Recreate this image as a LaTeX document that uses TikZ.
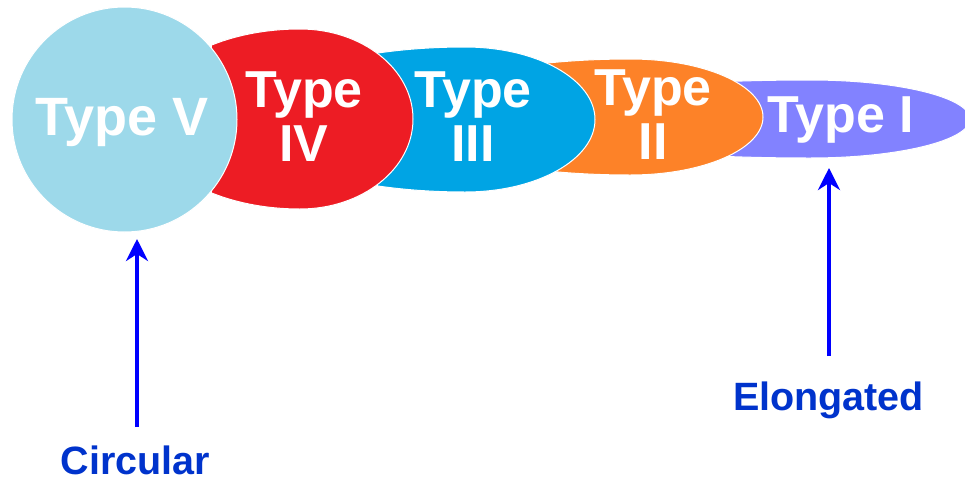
\documentclass[tikz,border=0pt]{standalone}
\usepackage{fontspec}
\setmainfont{Liberation Sans}
\usetikzlibrary{arrows.meta}

\definecolor{typeV}{HTML}{9DD9EA}
\definecolor{typeIV}{HTML}{ED1C24}
\definecolor{typeIII}{HTML}{00A4E4}
\definecolor{typeII}{HTML}{FD8228}
\definecolor{typeI}{HTML}{8282FF}
\definecolor{labelblue}{HTML}{0033CC}
\definecolor{arrowblue}{HTML}{0000FF}

\tikzset{
  blob/.style={draw=white, line width=1pt},
  typetext/.style={text=white, font=\bfseries\fontsize{52}{54}\selectfont,
                   align=center, inner sep=0pt, anchor=north},
  sidelabel/.style={text=labelblue, font=\bfseries\fontsize{39.5}{42}\selectfont,
                    inner sep=0pt, anchor=base},
  pointer/.style={draw=arrowblue, line width=4.5pt,
                  -{Stealth[length=22pt, width=22pt, inset=7pt]}}
}

% egg-shaped blob: right half-ellipse rxR, left half-ellipse rxL,
% cut off vertically at x = #1
% #1 cut, #2 cx, #3 cy, #4 rxR, #5 rxL, #6 ry, #7 colour
\newcommand{\eggblob}[7]{%
  \begin{scope}
    \clip (#1,-10) rectangle (1000,500);
    \fill[blob, fill=#7] (#2,#3-#6)
      arc[start angle=-90, end angle=90, x radius=#4, y radius=#6]
      arc[start angle=90, end angle=270, x radius=#5, y radius=#6] -- cycle;
  \end{scope}}

\begin{document}
\begin{tikzpicture}[x=1pt, y=-1pt]
  \useasboundingbox[fill=white] (0,0) rectangle (965,482);

  % shapes, back to front
  \eggblob{728}{810}{119}{160}{300}{39}{typeI}
  \eggblob{548}{630}{117}{133}{225}{58}{typeII}
  \eggblob{378}{465}{119.5}{130}{218}{72.5}{typeIII}
  \eggblob{212}{300}{119}{113}{155}{90}{typeIV}
  \fill[blob, fill=typeV] (124.5,119.5) circle[radius=112.5];

  % shape captions
  \node[typetext, font=\bfseries\fontsize{54}{56}\selectfont] (tV) at (122,98) {Type V};
  \node[typetext] (tIV)  at (304,72) {Type\\IV};
  \node[typetext] (tIII) at (473,72) {Type\\III};
  \node[typetext] (tII)  at (653,70) {Type\\II};
  \node[typetext] (tI)   at (841,97) {Type I};

  % side labels
  \node[sidelabel] (circ) at (135.5,474) {Circular};
  \node[sidelabel] (elong) at (828.5,410) {Elongated};

  % pointers
  \coordinate (circTail) at (137,427);
  \coordinate (circTip)  at (137,239);
  \coordinate (elongTail) at (829,356);
  \coordinate (elongTip)  at (829,168);
  \draw[pointer] (circTail) -- (circTip);
  \draw[pointer] (elongTail) -- (elongTip);
\end{tikzpicture}
\end{document}
